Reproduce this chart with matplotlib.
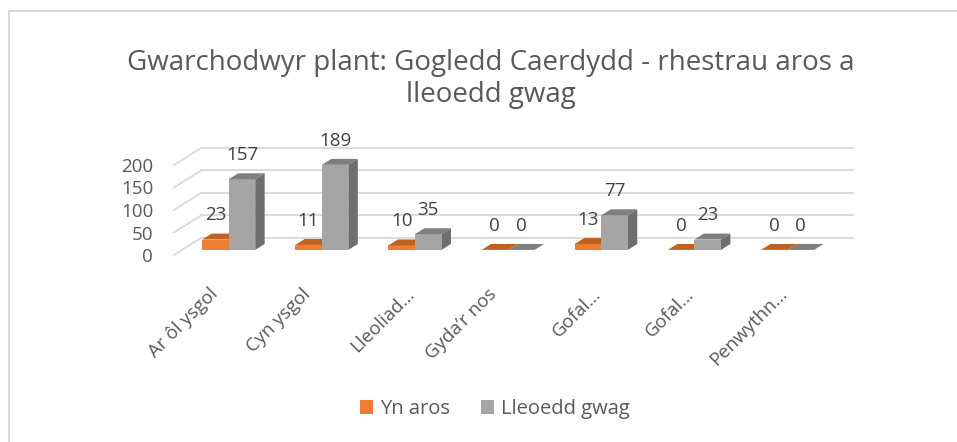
#!/usr/bin/env python3
# -*- coding: utf-8 -*-

"""
Gwarchodwyr plant: Gogledd Caerdydd - colofnau ffug-3D
"""

import matplotlib
import matplotlib.pyplot as plt
from matplotlib.patches import Polygon, Patch, Rectangle
from matplotlib.transforms import ScaledTranslation

matplotlib.use('agg')
plt.rcParams['font.family'] = ['Open Sans', 'DejaVu Sans']

categories = ['Ar ôl ysgol', 'Cyn ysgol', 'Lleoliad…', 'Gyda’r nos',
              'Gofal…', 'Gofal…', 'Penwythn…']
yn_aros = [23, 11, 10, 0, 13, 0, 0]
lleoedd_gwag = [157, 189, 35, 0, 77, 23, 0]
series_names = ['Yn aros', 'Lleoedd gwag']
y_ticks = [0, 50, 100, 150, 200]

# lliwiau: wyneb blaen, top, ochr
colours = [('#ED7D31', '#C0621F', '#A9561D'),
           ('#A5A5A5', '#7F7F7F', '#6E6E6E')]
text_col = '#595959'
grid_col = '#D9D9D9'

# dyfnder y llawr/wal mewn unedau data
DX = 0.29   # categori
DY = 37.8   # gwerth
d0 = 0.30   # blaen y colofnau
dd = 0.35   # dyfnder y colofnau
w = 0.285   # lled colofn

fig = plt.figure(figsize=(9.57, 4.42), dpi=100)
fig.patches.append(Rectangle((0.0099, -0.1), 1.2, 1.075, transform=fig.transFigure,
                             fill=False, edgecolor=grid_col, linewidth=1.5))

ax = fig.add_axes([174 / 957, (442 - 255) / 442, 652 / 957, 90 / 442])
ax.set_xlim(-0.5, len(categories) - 0.5)
ax.set_ylim(0, 200)
for s in ax.spines.values():
    s.set_visible(False)

# llinellau grid: wal ochr a wal gefn
x0, x1 = -0.5, len(categories) - 0.5
for v in y_ticks:
    ax.plot([x0, x0 + DX], [v, v + DY], color=grid_col, lw=1.3, clip_on=False, zorder=1)
    ax.plot([x0 + DX, x1 + DX], [v + DY, v + DY], color=grid_col, lw=1.3,
            clip_on=False, zorder=1)


def draw_bar(xl, val, cols):
    yb = d0 * DY
    yt = yb + val
    ox, oy = dd * DX, dd * DY
    if val > 0:
        ax.bar(xl, val, width=w, bottom=yb, align='edge', color=cols[0],
               linewidth=0, clip_on=False, zorder=3)
        ax.add_patch(Polygon([(xl + w, yb), (xl + w, yt), (xl + w + ox, yt + oy),
                              (xl + w + ox, yb + oy)], closed=True, facecolor=cols[2],
                             linewidth=0, clip_on=False, zorder=2))
    ax.add_patch(Polygon([(xl, yt), (xl + w, yt), (xl + w + ox, yt + oy),
                          (xl + ox, yt + oy)], closed=True, facecolor=cols[1],
                         linewidth=0, clip_on=False, zorder=3))
    ax.annotate(str(val), (xl + w / 2, yt), xytext=(0, 17.5), textcoords='offset points',
                ha='center', va='center', fontsize=13.5, color='#404040',
                annotation_clip=False, zorder=5)


for i in range(len(categories)):
    draw_bar(i - w + d0 * DX, yn_aros[i], colours[0])
    draw_bar(i + d0 * DX, lleoedd_gwag[i], colours[1])

ax.set_yticks(y_ticks)
ax.set_yticklabels([str(t) for t in y_ticks])
ax.set_xticks([i + d0 * DX - 0.15 for i in range(len(categories))])
ax.set_xticklabels(categories, rotation=45, ha='right', va='center', rotation_mode='anchor')
ax.tick_params(axis='y', length=0, pad=15, labelsize=13.5, labelcolor=text_col)
ax.tick_params(axis='x', length=0, pad=26, labelsize=13.5, labelcolor=text_col)

# labeli wedi'u byrhau yn eistedd ychydig i'r dde
shift = ScaledTranslation(0.11, 0, fig.dpi_scale_trans)
for lbl in ax.get_xticklabels():
    if lbl.get_text().endswith('…'):
        lbl.set_transform(lbl.get_transform() + shift)

fig.text(491 / 957, 1 - 79 / 442,
         'Gwarchodwyr plant: Gogledd Caerdydd - rhestrau aros a\nlleoedd gwag',
         ha='center', va='center', fontsize=20, color=text_col, linespacing=1.15)

handles = [Patch(facecolor=colours[k][0], edgecolor='none', label=series_names[k])
           for k in range(2)]
fig.legend(handles=handles, loc='center', bbox_to_anchor=(495 / 957, 1 - 409 / 442),
           ncol=2, frameon=False, fontsize=14.5, labelcolor=text_col,
           handlelength=0.65, handleheight=0.65, handletextpad=0.35, columnspacing=1.5)

fig.savefig('out.png', dpi=100)
